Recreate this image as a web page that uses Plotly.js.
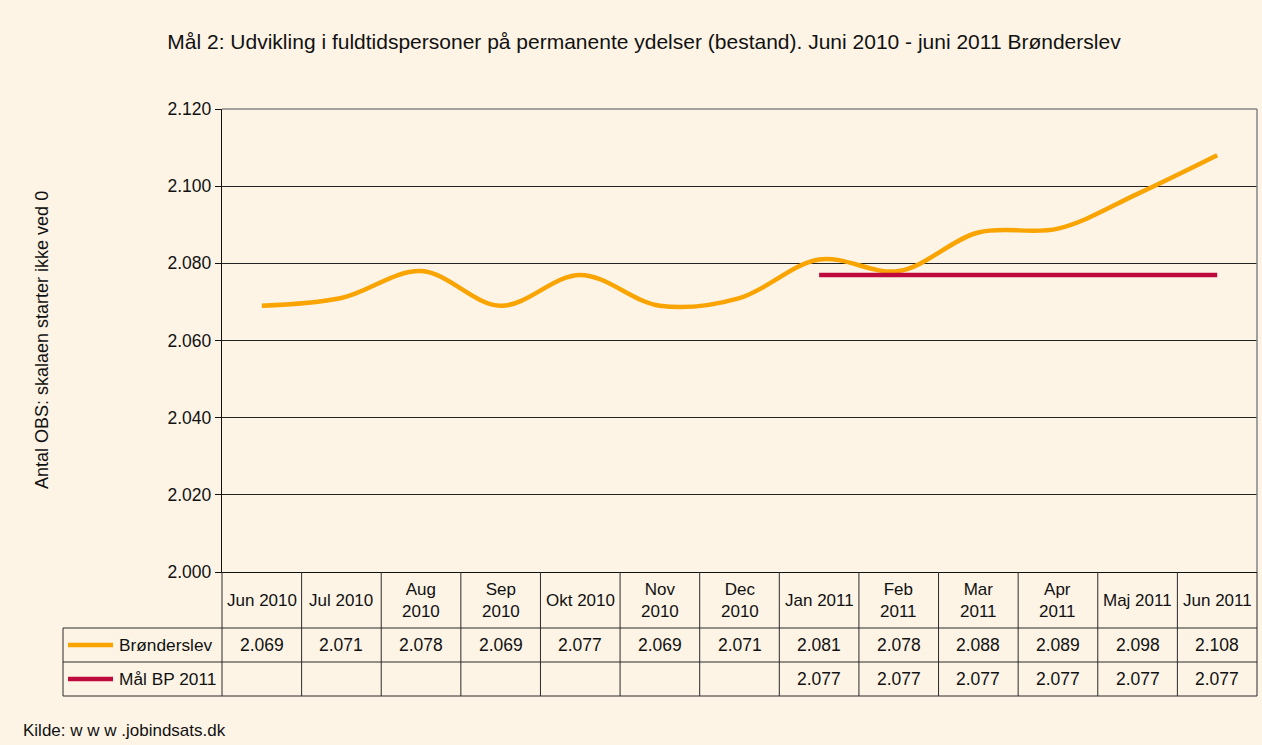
<!DOCTYPE html>
<html>
<head>
<meta charset="utf-8">
<script src="https://cdn.plot.ly/plotly-3.0.1.min.js"></script>
<style>
html,body{margin:0;padding:0;background:#FDF4E6;}
#chart{width:1262px;height:745px;}
</style>
</head>
<body>
<div id="chart"></div>
<script>
// ---- data ----
const categories = ["Jun 2010","Jul 2010","Aug 2010","Sep 2010","Okt 2010","Nov 2010","Dec 2010","Jan 2011","Feb 2011","Mar 2011","Apr 2011","Maj 2011","Jun 2011"];
const tickLabels = ["Jun 2010","Jul 2010","Aug<br>2010","Sep<br>2010","Okt 2010","Nov<br>2010","Dec<br>2010","Jan 2011","Feb<br>2011","Mar<br>2011","Apr<br>2011","Maj 2011","Jun 2011"];
const bronderslev = [2069,2071,2078,2069,2077,2069,2071,2081,2078,2088,2089,2098,2108];
const maalBP2011 = [null,null,null,null,null,null,null,2077,2077,2077,2077,2077,2077];
const seriesNames = ["Brønderslev","Mål BP 2011"];
const yTicks = [2000,2020,2040,2060,2080,2100,2120];

// ---- layout geometry ----
const W = 1262, H = 745;
const M = {l:222, r:5, t:109, b:173};
const PW = W - M.l - M.r, PH = H - M.t - M.b;
const px = x => (x - M.l) / PW;                 // page x -> paper x
const py = y => (H - M.b - y) / PH;              // page y -> paper y
const fmt = v => String(v).replace(/\B(?=(\d{3})+(?!\d))/g, ".");

const orange = "#F9A400", red = "#BE0A3C", lineCol = "#2b2b2b";
const FONT = "Liberation Sans, Arial, sans-serif";
const n = categories.length;
const idx = categories.map((_, i) => i);

const traces = [
  {x: idx, y: bronderslev, name: seriesNames[0], mode: "lines",
   line: {color: orange, width: 4.5, shape: "spline", smoothing: 1}, hoverinfo: "y"},
  {x: idx, y: maalBP2011, name: seriesNames[1], mode: "lines",
   line: {color: red, width: 4.5}, hoverinfo: "y"}
];

const rowHeader = [572, 628], row1 = [628, 662], row2 = [662, 696];
const legendLeft = 63;
const shapes = [];
// plot border top & right (grey)
shapes.push({type:"line", xref:"paper", yref:"paper", x0:0, x1:1, y0:1, y1:1, line:{color:"#858585", width:1.5}, layer:"above"});
shapes.push({type:"line", xref:"paper", yref:"paper", x0:1, x1:1, y0:0, y1:1, line:{color:"#858585", width:1.5}, layer:"above"});
// table verticals
for (let k = 0; k <= n; k++) {
  shapes.push({type:"line", xref:"paper", yref:"paper", x0:k/n, x1:k/n, y0:py(row2[1]), y1:0, line:{color:lineCol, width:1}});
}
shapes.push({type:"line", xref:"paper", yref:"paper", x0:px(legendLeft), x1:px(legendLeft), y0:py(row2[1]), y1:py(row1[0]), line:{color:lineCol, width:1}});
// table horizontals
[row1[0], row2[0], row2[1]].forEach(y => {
  shapes.push({type:"line", xref:"paper", yref:"paper", x0:px(legendLeft), x1:1, y0:py(y), y1:py(y), line:{color:lineCol, width:1}});
});
// legend samples
[[row1, orange], [row2, red]].forEach(([r, c]) => {
  const yc = py((r[0] + r[1]) / 2);
  shapes.push({type:"line", xref:"paper", yref:"paper", x0:px(68), x1:px(113), y0:yc, y1:yc, line:{color:c, width:4.5}});
});

const annotations = [];
// category header labels
tickLabels.forEach((t, i) => {
  annotations.push({x:i, xref:"x", y:py((rowHeader[0]+rowHeader[1])/2), yref:"paper", text:t, showarrow:false,
    font:{family:FONT, size:17, color:"#111"}, xanchor:"center", yanchor:"middle"});
});
// values
[[bronderslev, row1], [maalBP2011, row2]].forEach(([arr, r]) => {
  arr.forEach((v, i) => {
    if (v === null) return;
    annotations.push({x:i, xref:"x", y:py((r[0]+r[1])/2), yref:"paper", text:fmt(v), showarrow:false,
      font:{family:FONT, size:17.5, color:"#111"}, xanchor:"center", yanchor:"middle"});
  });
});
// legend names
[[seriesNames[0], row1], [seriesNames[1], row2]].forEach(([s, r]) => {
  annotations.push({x:px(117), xref:"paper", y:py((r[0]+r[1])/2), yref:"paper", text:s, showarrow:false,
    font:{family:FONT, size:17.3, color:"#111"}, xanchor:"left", yanchor:"middle"});
});
// y axis title
annotations.push({x:px(42), xref:"paper", y:py(340), yref:"paper", text:"Antal OBS: skalaen starter ikke ved 0", textangle:-90,
  showarrow:false, font:{family:FONT, size:18, color:"#111"}, xanchor:"center", yanchor:"middle"});
// source
annotations.push({x:px(21), xref:"paper", y:py(730), yref:"paper", text:"Kilde: w w w .jobindsats.dk", showarrow:false,
  font:{family:FONT, size:17, color:"#111"}, xanchor:"left", yanchor:"middle"});

const layout = {
  width: W, height: H,
  margin: M,
  paper_bgcolor: "#FDF4E6", plot_bgcolor: "#FDF4E6",
  separators: ",.",
  showlegend: false,
  title: {text:"Mål 2: Udvikling i fuldtidspersoner på permanente ydelser (bestand). Juni 2010 - juni 2011 Brønderslev",
    font:{family:FONT, size:21, color:"#111"}, x:644/W, xref:"container", xanchor:"center", y:1-42/H, yref:"container", yanchor:"middle"},
  xaxis: {range:[-0.5, n-0.5], showticklabels:false, showgrid:false, zeroline:false, ticks:"",
    showline:true, linecolor:"#111", linewidth:1.2, fixedrange:true},
  yaxis: {range:[yTicks[0], yTicks[yTicks.length-1]], tickvals:yTicks, ticktext:yTicks.map(fmt),
    showgrid:true, gridcolor:"#222", gridwidth:1, zeroline:false,
    showline:true, linecolor:"#111", linewidth:1.2, ticks:"outside", ticklen:6, tickcolor:"#111",
    tickfont:{family:FONT, size:17.5, color:"#111"}, fixedrange:true},
  shapes: shapes,
  annotations: annotations
};

Plotly.newPlot("chart", traces, layout, {displayModeBar:false, staticPlot:true});
</script>
</body>
</html>
